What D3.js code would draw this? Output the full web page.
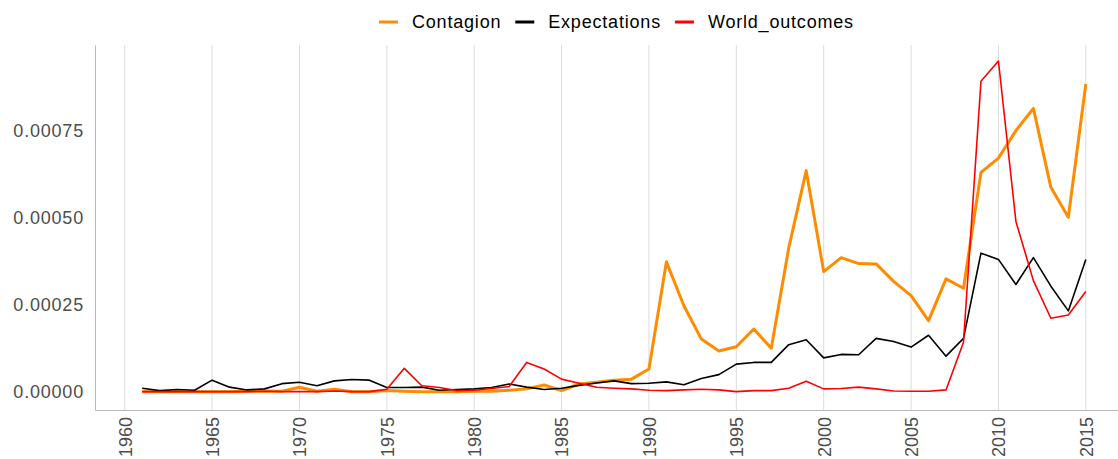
<!DOCTYPE html>
<html>
<head>
<meta charset="utf-8">
<script src="https://cdn.jsdelivr.net/npm/d3@7"></script>
<style>
  body { margin: 0; background: #fff; }
  text { font-family: "Liberation Sans", Arial, sans-serif; }
</style>
</head>
<body>
<div class="container"></div>
<script>
// years 1961 - 2015
var years = d3.range(1961, 2016);

// values are in units of 1e-5
var contagion = [0.1, 0.1, 0.1, 0.1, 0.1, 0.1, 0.2, 0.3, 0.2, 1.35,
  0.2, 0.8, 0.1, 0.1, 0.4, 0.2, 0.1, 0.1, 0.1, 0.2,
  0.2, 0.5, 0.9, 2.0, 0.4, 2.3, 2.8, 3.4, 3.7, 6.6,
  37.4, 24.8, 15.2, 11.8, 13.0, 18.1, 12.6, 41.4, 63.6, 34.6,
  38.6, 36.9, 36.8, 31.8, 27.7, 20.5, 32.5, 29.8, 63.1, 67.2,
  75.1, 81.5, 58.8, 50.2, 88.5];

var expectations = [1.1, 0.4, 0.7, 0.5, 3.4, 1.4, 0.6, 0.9, 2.4, 2.8,
  1.8, 3.2, 3.6, 3.4, 1.3, 1.3, 1.4, 0.5, 0.7, 0.9,
  1.3, 2.3, 1.4, 0.7, 1.1, 1.9, 2.6, 3.2, 2.4, 2.5,
  2.9, 2.1, 3.9, 5.0, 8.0, 8.5, 8.5, 13.6, 15.0, 9.8,
  10.8, 10.7, 15.4, 14.5, 12.9, 16.3, 10.3, 15.4, 39.9, 38.1,
  30.9, 38.6, 30.4, 23.3, 38.1];

var worldOutcomes = [0.1, 0.1, 0.1, 0.1, 0.1, 0.1, 0.1, 0.2, 0.1, 0.1,
  0.1, 0.3, 0.1, 0.1, 0.8, 6.8, 1.8, 1.3, 0.4, 0.5,
  1.0, 1.6, 8.5, 6.6, 3.7, 2.5, 1.35, 1.1, 0.9, 0.5,
  0.4, 0.6, 0.8, 0.6, 0.1, 0.4, 0.4, 1.1, 3.1, 0.9,
  1.0, 1.4, 0.9, 0.3, 0.2, 0.2, 0.6, 14.3, 89.3, 95.1,
  49.0, 32.0, 21.2, 22.1, 28.9];

var seriesNames = ['Contagion', 'Expectations', 'World_outcomes'];
var seriesColors = ['#ff8c00', '#000000', '#ff0000'];
var seriesWidths = [3, 1.6, 1.6];
var seriesValues = [contagion, expectations, worldOutcomes];

var xTicks = d3.range(1960, 2016, 5);
var yTicks = [0, 0.00025, 0.0005, 0.00075];

buildChart();

function buildChart() {

  var w = 1118;
  var h = 459;
  var left = 95, right = 1133, top = 45, bottom = 410;

  var svg = d3.select('.container')
    .append('svg')
    .attr('width', w)
    .attr('height', h);

  var xScale = d3.scaleLinear()
    .domain([1958.3, 2017.7])
    .range([left, right]);

  var yScale = d3.scaleLinear()
    .domain([-0.0000517, 0.000997])
    .range([bottom, top]);

  /* vertical grid lines */
  svg.append('g')
    .selectAll('line')
    .data(xTicks)
    .enter()
    .append('line')
    .attr('x1', function(d) { return xScale(d); })
    .attr('x2', function(d) { return xScale(d); })
    .attr('y1', top)
    .attr('y2', bottom)
    .attr('stroke', '#dcdcdc')
    .attr('stroke-width', 1);

  /* axes */
  var xAxis = d3.axisBottom(xScale)
    .tickValues(xTicks)
    .tickSize(0)
    .tickPadding(8)
    .tickFormat(d3.format('d'));

  var gx = svg.append('g')
    .attr('transform', 'translate(0,' + bottom + ')')
    .call(xAxis);
  gx.select('.domain').attr('stroke', '#b8b8b8');
  gx.selectAll('text')
    .attr('transform', 'rotate(-90)')
    .attr('x', -7)
    .attr('y', 0)
    .attr('dy', '0.35em')
    .attr('text-anchor', 'end')
    .style('font-size', '18px')
    .attr('fill', '#4d4d4d');

  var yAxis = d3.axisLeft(yScale)
    .tickValues(yTicks)
    .tickSize(0)
    .tickPadding(11)
    .tickFormat(d3.format('.5f'));

  var gy = svg.append('g')
    .attr('transform', 'translate(' + left + ',0)')
    .call(yAxis);
  gy.select('.domain').attr('stroke', '#b8b8b8');
  gy.selectAll('text')
    .style('font-size', '18px')
    .style('letter-spacing', '0.8px')
    .attr('fill', '#4d4d4d');

  /* lines */
  var line = d3.line()
    .x(function(d, i) { return xScale(years[i]); })
    .y(function(d) { return yScale(d * 1e-5); });

  seriesValues.forEach(function(vals, k) {
    svg.append('path')
      .datum(vals)
      .attr('d', line)
      .attr('fill', 'none')
      .attr('stroke', seriesColors[k])
      .attr('stroke-width', seriesWidths[k])
      .attr('stroke-linejoin', 'round');
  });

  /* legend */
  var legend = svg.append('g');
  var lx = 379;
  var ly = 22;
  seriesNames.forEach(function(name, k) {
    legend.append('line')
      .attr('x1', lx).attr('x2', lx + 19)
      .attr('y1', ly).attr('y2', ly)
      .attr('stroke', seriesColors[k])
      .attr('stroke-width', 3);
    var t = legend.append('text')
      .attr('x', lx + 33)
      .attr('y', ly)
      .attr('dy', '0.35em')
      .style('font-size', '18px')
      .style('letter-spacing', '0.8px')
      .attr('fill', '#000')
      .text(name);
    lx = lx + 33 + t.node().getComputedTextLength() + 14;
  });
}
</script>
</body>
</html>
